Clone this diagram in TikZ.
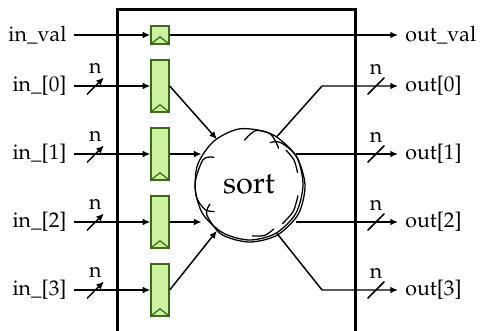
\documentclass[tikz,border=0pt]{standalone}
\usepackage[T1]{fontenc}
\usepackage{mathpazo}
\usetikzlibrary{arrows.meta,shapes,positioning,calc}

\definecolor{regfill}{RGB}{204,242,160}
\definecolor{regline}{RGB}{58,108,22}

\tikzset{
  wire/.style={line width=.7pt},
  sketch/.style={line width=.6pt,line cap=round},
  regbox/.style={draw=regline,fill=regfill,line width=.6pt,inner sep=0pt,
    minimum width=8.5pt,minimum height=24.4pt,
    path picture={\draw[regline,line width=.6pt]
      (path picture bounding box.south west) -- ++(4.25pt,3.4pt)
      -- (path picture bounding box.south east);}},
  busmark/.style={inner sep=0pt,minimum size=8pt,label={[inner sep=1pt]above:n},
    path picture={\draw[line width=.7pt]
      (path picture bounding box.south west) -- (path picture bounding box.north east);}},
  sig/.style={inner sep=3.3pt}
}

\begin{document}
\begin{tikzpicture}[x=.47pt,y=.47pt,>={Latex[length=3.6pt,width=3.2pt]}]
  \useasboundingbox (0,0) rectangle (480,-331);
  \clip (0,0) rectangle (480,-331);
  % module outline
  \draw[line width=1.4pt] (117.5,-9.5) rectangle (355.5,-332);

  % registers
  \node(rv)[regbox,minimum height=8.5pt] at (160,-35) {};
  \node(r0)[regbox] at (160,-86) {};
  \node(r1)[regbox] at (160,-154) {};
  \node(r2)[regbox] at (160,-222) {};
  \node(r3)[regbox] at (160,-290) {};

  % inputs
  \node(iv)[sig,anchor=east] at (74,-35) {in\_val};
  \node(i0)[sig,anchor=east] at (74,-86) {in\_[0]};
  \node(i1)[sig,anchor=east] at (74,-154) {in\_[1]};
  \node(i2)[sig,anchor=east] at (74,-222) {in\_[2]};
  \node(i3)[sig,anchor=east] at (74,-290) {in\_[3]};

  % outputs
  \node(ov)[sig,anchor=west] at (398,-35) {out\_val};
  \node(o0)[sig,anchor=west] at (398,-86) {out[0]};
  \node(o1)[sig,anchor=west] at (398,-154) {out[1]};
  \node(o2)[sig,anchor=west] at (398,-222) {out[2]};
  \node(o3)[sig,anchor=west] at (398,-290) {out[3]};

  % sorter, drawn as a hand-made loop
  \node(sort)[ellipse,minimum width=50.5pt,minimum height=53pt,inner sep=0pt]
    at (249,-185) {\Large sort};
  \begin{scope}[shift={(sort.center)}]
    \draw[sketch] plot[smooth] coordinates {(96:43 and 45) (82:52 and 55)
      (60:54 and 56) (30:55 and 56) (0:54 and 56) (-30:54 and 57) (-60:53 and 56)
      (-90:53 and 55) (-120:53 and 55) (-150:54 and 56) (-180:54 and 56)
      (-208:52 and 54) (-217:44 and 46)};
    \draw[sketch] plot[smooth] coordinates {(205:43 and 45) (214:51 and 53)
      (240:55 and 57) (270:55 and 57) (300:56 and 58) (330:57 and 58)
      (0:56 and 57) (30:55 and 57) (52:51 and 54) (62:45 and 48)};
    \draw[sketch] plot[smooth] coordinates {(50:46 and 48) (68:53 and 56)
      (100:55 and 57) (130:55 and 57) (160:55 and 57) (190:54 and 56)
      (208:50 and 52) (216:43 and 45)};
    \draw[sketch] plot[smooth] coordinates {(42:50 and 52) (28:51 and 53) (14:50 and 52)};
    \draw[sketch] plot[smooth] coordinates {(-12:50 and 52) (-30:51 and 53) (-48:50 and 52)};
    \draw[sketch] plot[smooth] coordinates {(-86:49 and 51) (-72:51 and 53) (-60:49 and 51)};
  \end{scope}

  % wires in
  \path[->,wire] (iv) edge (rv);
  \path[->,wire] (i0) edge node[busmark,pos=.28]{} (r0);
  \path[->,wire] (i1) edge node[busmark,pos=.28]{} (r1);
  \path[->,wire] (i2) edge node[busmark,pos=.28]{} (r2);
  \path[->,wire] (i3) edge node[busmark,pos=.28]{} (r3);
  \draw[->,wire] (r0.east) -- (sort.125);
  \draw[->,wire] (r1.east) -- (r1.east -| sort.150);
  \draw[->,wire] (r2.east) -- (r2.east -| sort.210);
  \draw[->,wire] (r3.east) -- (sort.235);

  % wires out
  \draw[->,wire] (rv) -- (ov);
  \draw[->,wire] (sort.60) -- ([xshift=-35.7pt]o0.west) -- (o0.west);
  \draw[->,wire] (o1.west -| sort.30) -- (o1.west);
  \draw[->,wire] (o2.west -| sort.-30) -- (o2.west);
  \draw[->,wire] (sort.-60) -- ([xshift=-35.7pt]o3.west) -- (o3.west);
  \node[busmark] at (376,-86) {};
  \node[busmark] at (376,-154) {};
  \node[busmark] at (376,-222) {};
  \node[busmark] at (376,-290) {};
\end{tikzpicture}
\end{document}
